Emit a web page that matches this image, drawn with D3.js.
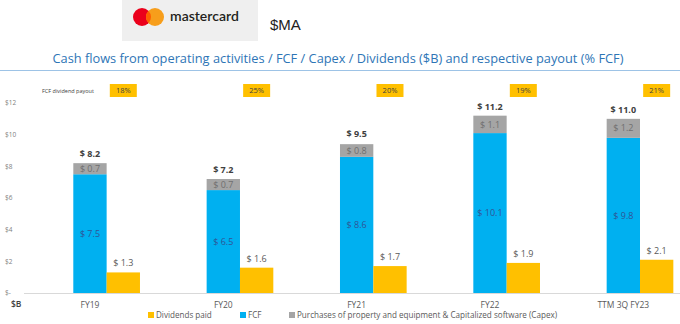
<!DOCTYPE html>
<html>
<head>
<meta charset="utf-8">
<script src="https://cdn.jsdelivr.net/npm/d3@7"></script>
<style>
  body { margin: 0; background: #fff; }
  svg { display: block; font-family: "Open Sans", "Liberation Sans", sans-serif; }
</style>
</head>
<body>
<div id="chart"></div>
<script>
// data
const categories = ["FY19", "FY20", "FY21", "FY22", "TTM 3Q FY23"];
const fcf = [7.5, 6.5, 8.6, 10.1, 9.8];
const capex = [0.7, 0.7, 0.8, 1.1, 1.2];
const totals = [8.2, 7.2, 9.5, 11.2, 11.0];
const dividends = [1.3, 1.6, 1.7, 1.9, 2.1];
const payout = ["18%", "25%", "20%", "19%", "21%"];
const yTicks = [0, 2, 4, 6, 8, 10, 12];

const width = 680, height = 324;
const colors = {fcf: "#00b0f0", capex: "#a5a5a5", div: "#ffc000"};

const svg = d3.select("#chart").append("svg")
    .attr("width", width).attr("height", height);

//Header: logo box + ticker
const logo = svg.append("g");
logo.append("rect").attr("x", 122).attr("y", 0).attr("width", 136).attr("height", 41).attr("fill", "#efefef");
logo.append("circle").attr("cx", 142).attr("cy", 17).attr("r", 9).attr("fill", "#eb001b");
logo.append("circle").attr("cx", 155).attr("cy", 17).attr("r", 9).attr("fill", "#f79e1b");
logo.append("circle").attr("cx", 142).attr("cy", 17).attr("r", 9).attr("fill", "#ff5f00")
    .attr("clip-path", "url(#clipOrange)");
svg.append("clipPath").attr("id", "clipOrange")
    .append("circle").attr("cx", 155).attr("cy", 17).attr("r", 9);
logo.append("text").attr("x", 170).attr("y", 21)
    .attr("font-size", 14).attr("font-weight", 600).attr("fill", "#231f20")
    .attr("font-family", "Lato, sans-serif")
    .text("mastercard");
svg.append("text").attr("x", 270).attr("y", 30)
    .attr("font-size", 15).attr("fill", "#222")
    .attr("font-family", "Liberation Sans, sans-serif")
    .text("$MA");

//Title - sized so it spans about 575px like the original
const title = svg.append("text").attr("x", 338).attr("y", 63)
    .attr("text-anchor", "middle").attr("font-size", 15).attr("fill", "#2e75b6")
    .text("Cash flows from operating activities / FCF / Capex / Dividends ($B) and respective payout (% FCF)");
const tLen = title.node().getComputedTextLength();
title.attr("font-size", Math.min(15, 15 * 572 / tLen));
svg.append("line").attr("x1", 0).attr("x2", width).attr("y1", 70.5).attr("y2", 70.5)
    .attr("stroke", "#9dc3e6").attr("stroke-width", 1.2);

//Scales
const x = d3.scaleBand().domain(categories).range([23.3, 690]);
const y = d3.scaleLinear().domain([0, 12]).range([293, 103]);
const bw = x.bandwidth() / 4;
const cx = d => x(d) + x.bandwidth() / 2;

//Y axis labels
svg.append("g").selectAll("text").data(yTicks).join("text")
    .attr("x", 5).attr("y", d => y(d)).attr("dy", "0.35em")
    .attr("font-size", 6.5).attr("fill", "#7f7f7f")
    .text(d => d === 0 ? "$-" : `$${d}`);

//Baseline
svg.append("line").attr("x1", 24).attr("x2", width).attr("y1", y(0) + 0.5).attr("y2", y(0) + 0.5)
    .attr("stroke", "#d9d9d9");

const groups = svg.append("g").selectAll("g").data(categories).join("g");

//FCF bars
groups.append("rect")
    .attr("x", d => cx(d) - bw / 2).attr("width", bw)
    .attr("y", (d, i) => y(fcf[i])).attr("height", (d, i) => y(0) - y(fcf[i]))
    .attr("fill", colors.fcf);
//Capex on top
groups.append("rect")
    .attr("x", d => cx(d) - bw / 2).attr("width", bw)
    .attr("y", (d, i) => y(fcf[i] + capex[i])).attr("height", (d, i) => y(fcf[i]) - y(fcf[i] + capex[i]))
    .attr("fill", colors.capex);
//Dividends
groups.append("rect")
    .attr("x", d => cx(d) + bw / 2).attr("width", bw)
    .attr("y", (d, i) => y(dividends[i])).attr("height", (d, i) => y(0) - y(dividends[i]))
    .attr("fill", colors.div);

//Labels
groups.append("text")
    .attr("x", d => cx(d)).attr("y", (d, i) => y(fcf[i] / 2)).attr("dy", "0.35em")
    .attr("text-anchor", "middle").attr("font-size", 9).attr("fill", "#2f5597")
    .text((d, i) => `$ ${fcf[i].toFixed(1)}`);
groups.append("text")
    .attr("x", d => cx(d)).attr("y", (d, i) => y(fcf[i] + capex[i] / 2)).attr("dy", "0.35em")
    .attr("text-anchor", "middle").attr("font-size", 9).attr("fill", "#6f6f6f")
    .text((d, i) => `$ ${capex[i].toFixed(1)}`);
groups.append("text")
    .attr("x", d => cx(d)).attr("y", (d, i) => y(totals[i]) - 6)
    .attr("text-anchor", "middle").attr("font-size", 9).attr("font-weight", "bold").attr("fill", "#404040")
    .text((d, i) => `$ ${totals[i].toFixed(1)}`);
groups.append("text")
    .attr("x", d => cx(d) + bw).attr("y", (d, i) => y(dividends[i]) - 6)
    .attr("text-anchor", "middle").attr("font-size", 9).attr("fill", "#595959")
    .text((d, i) => `$ ${dividends[i].toFixed(1)}`);

//Payout boxes
svg.append("text").attr("x", 42).attr("y", 93)
    .attr("font-size", 5.5).attr("fill", "#404040").text("FCF dividend payout");
groups.append("rect")
    .attr("x", d => cx(d) + bw - 13.5).attr("y", 84).attr("width", 27).attr("height", 13)
    .attr("fill", colors.div);
groups.append("text")
    .attr("x", d => cx(d) + bw).attr("y", 90.5).attr("dy", "0.35em")
    .attr("text-anchor", "middle").attr("font-size", 7.5).attr("fill", "#404040")
    .text((d, i) => payout[i]);

//Category labels
groups.append("text")
    .attr("x", d => cx(d)).attr("y", 305).attr("dy", "0.35em")
    .attr("text-anchor", "middle").attr("font-size", 8.5).attr("fill", "#595959")
    .text(d => d);
svg.append("text").attr("x", 11).attr("y", 304).attr("dy", "0.35em")
    .attr("font-size", 8.5).attr("font-weight", 600).attr("fill", "#404040").text("$B");

//Legend
const legendItems = [
    {label: "Dividends paid", color: colors.div, x: 148},
    {label: "FCF", color: colors.fcf, x: 240},
    {label: "Purchases of property and equipment & Capitalized software (Capex)", color: colors.capex, x: 289}
];
const legend = svg.append("g").selectAll("g").data(legendItems).join("g")
    .attr("transform", d => `translate(${d.x},315)`);
legend.append("rect").attr("x", 0).attr("y", -3).attr("width", 6).attr("height", 6).attr("fill", d => d.color);
legend.append("text").attr("x", 8).attr("y", 0).attr("dy", "0.35em")
    .attr("font-size", 8.1).attr("fill", "#595959").text(d => d.label);
</script>
</body>
</html>
